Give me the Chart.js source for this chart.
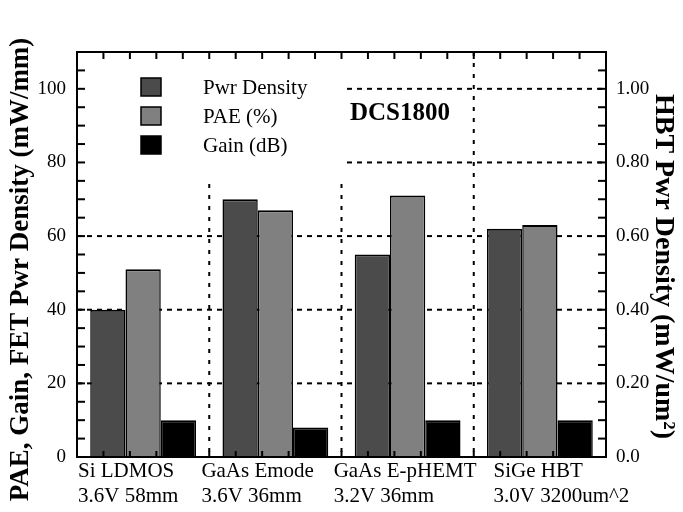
<!DOCTYPE html>
<html>
<head>
<meta charset="utf-8">
<script src="https://cdn.jsdelivr.net/npm/chart.js"></script>
<style>
  html, body { margin: 0; padding: 0; background: #fff; }
</style>
</head>
<body>
<canvas id="chart" width="683" height="512"></canvas>
<script>
const categories = [
  ['Si LDMOS', '3.6V 58mm'],
  ['GaAs Emode', '3.6V 36mm'],
  ['GaAs E-pHEMT', '3.2V 36mm'],
  ['SiGe HBT', '3.0V 3200um^2']
];
// FET values in mW/mm, the SiGe HBT value is in mW/um^2 (right axis)
const pwrDensity = [40, 70, 55, 0.62];
const hbtIndex = 3;
const pae = [51, 67, 71, 63];
const gain = [10, 8, 10, 10];

const leftTicks = [0, 20, 40, 60, 80, 100];
const rightTicks = [0, 0.2, 0.4, 0.6, 0.8, 1.0];

const leftTitle = 'PAE, Gain, FET Pwr Density (mW/mm)';
const rightTitle = 'HBT Pwr Density (mW/um²)';

const serif = "'Liberation Serif', 'Times New Roman', serif";

// right axis is 1/100 of the left axis
const pwrPlotted = pwrDensity.map((v, i) => i === hbtIndex ? v * 100 : v);

function line(ctx, x1, y1, x2, y2) {
  ctx.beginPath();
  ctx.moveTo(x1, y1);
  ctx.lineTo(x2, y2);
  ctx.stroke();
}

const decor = {
  id: 'decor',
  beforeDatasetsDraw(chart) {
    const { ctx, chartArea: a, scales: { x, y } } = chart;
    ctx.save();
    ctx.strokeStyle = '#000';
    ctx.lineWidth = 2;
    ctx.setLineDash([5, 5]);
    leftTicks.slice(1).forEach(v => {
      const py = y.getPixelForValue(v);
      line(ctx, a.left, py, a.right, py);
    });
    ctx.setLineDash([4, 7]);
    for (let i = 1; i < categories.length; i++) {
      const px = x.getPixelForValue(i - 0.5);
      line(ctx, px, a.top, px, a.bottom);
    }
    // blank area behind the legend
    ctx.fillStyle = '#fff';
    ctx.fillRect(a.left, a.top, x.getPixelForValue(1.5) + 3 - a.left, y.getPixelForValue(76) - a.top);
    ctx.restore();
  },
  afterDatasetsDraw(chart) {
    const { ctx, chartArea: a, scales: { x, y } } = chart;
    ctx.save();
    ctx.strokeStyle = '#000';
    ctx.lineWidth = 2;
    ctx.setLineDash([]);

    // inward ticks
    for (let v = 0; v <= 110; v += 5) {
      const py = y.getPixelForValue(v);
      line(ctx, a.left, py, a.left + 8, py);
      line(ctx, a.right - 8, py, a.right, py);
    }
    const x0 = x.getPixelForValue(-0.5);
    const step = (x.getPixelForValue(0.5) - x0) / 5;
    for (let k = 0; k <= categories.length * 5; k++) {
      const px = x0 + k * step;
      line(ctx, px, a.top, px, a.top + 7);
      line(ctx, px, a.bottom - 6, px, a.bottom);
    }

    // frame
    ctx.strokeRect(a.left, a.top, a.right - a.left, a.bottom - a.top);

    // category labels, left aligned blocks that never overlap
    ctx.fillStyle = '#000';
    ctx.font = '21px ' + serif;
    ctx.textBaseline = 'top';
    let prevEnd = a.left - 16;
    categories.forEach((lines, i) => {
      const w = Math.max(...lines.map(t => ctx.measureText(t).width));
      const sx = Math.max(x.getPixelForValue(i) - 74, prevEnd + 17, a.left + 1);
      lines.forEach((t, j) => ctx.fillText(t, sx, a.bottom + 4 + j * 25));
      prevEnd = sx + w;
    });

    // legend
    ctx.textBaseline = 'middle';
    chart.data.datasets.forEach((ds, i) => {
      const bx = a.left + 64;
      const by = a.top + 26 + i * 29;
      ctx.fillStyle = ds.backgroundColor;
      ctx.fillRect(bx, by, 20, 18);
      ctx.lineWidth = 1.5;
      ctx.strokeRect(bx, by, 20, 18);
      ctx.fillStyle = '#000';
      ctx.fillText(ds.label, a.left + 126, by + 10);
    });

    ctx.font = 'bold 25px ' + serif;
    ctx.textAlign = 'center';
    ctx.fillText('DCS1800', a.left + 323, a.top + 62);

    // axis titles
    const midY = (a.top + a.bottom) / 2 + 12;
    ctx.textBaseline = 'alphabetic';
    ctx.font = 'bold 27px ' + serif;
    ctx.save();
    ctx.translate(28, midY + 3);
    ctx.rotate(-Math.PI / 2);
    ctx.fillText(leftTitle, 0, 0);
    ctx.restore();
    ctx.font = 'bold 28px ' + serif;
    ctx.save();
    ctx.translate(656, midY);
    ctx.rotate(Math.PI / 2);
    ctx.fillText(rightTitle, 0, 0);
    ctx.restore();
    ctx.restore();
  }
};

const barBorder = { top: 2, left: 1.5, right: 1.5, bottom: 0 };

new Chart(document.getElementById('chart'), {
  type: 'bar',
  data: {
    labels: categories,
    datasets: [
      { label: 'Pwr Density', data: pwrPlotted, backgroundColor: '#4b4b4b', borderColor: '#000', borderWidth: barBorder },
      { label: 'PAE (%)', data: pae, backgroundColor: '#808080', borderColor: '#000', borderWidth: barBorder },
      { label: 'Gain (dB)', data: gain, backgroundColor: '#000', borderColor: '#000', borderWidth: barBorder }
    ]
  },
  options: {
    responsive: false,
    animation: false,
    categoryPercentage: 0.8,
    barPercentage: 1.0,
    layout: { padding: { top: 52 } },
    plugins: {
      legend: { display: false },
      tooltip: { enabled: false }
    },
    scales: {
      x: {
        grid: { display: false, drawTicks: false },
        border: { display: false },
        ticks: { display: false },
        afterFit(s) {
          s.height = 55;
          s.paddingLeft = 0;
          s.paddingRight = 0;
        }
      },
      y: {
        position: 'left',
        min: 0,
        max: 110,
        afterBuildTicks(s) { s.ticks = leftTicks.map(v => ({ value: v })); },
        grid: { display: false, drawTicks: false },
        border: { display: false },
        ticks: { color: '#000', font: { family: serif, size: 19 }, padding: 11 },
        afterFit(s) {
          s.width = 77;
          s.paddingTop = 0;
          s.paddingBottom = 0;
        }
      },
      y2: {
        position: 'right',
        min: 0,
        max: 1.1,
        afterBuildTicks(s) { s.ticks = rightTicks.map(v => ({ value: v })); },
        grid: { display: false, drawTicks: false },
        border: { display: false },
        ticks: {
          color: '#000',
          font: { family: serif, size: 19 },
          padding: 10,
          callback: v => v === 0 ? '0.0' : v.toFixed(2)
        },
        afterFit(s) {
          s.width = 77;
          s.paddingTop = 0;
          s.paddingBottom = 0;
        }
      }
    }
  },
  plugins: [decor]
});
</script>
</body>
</html>
